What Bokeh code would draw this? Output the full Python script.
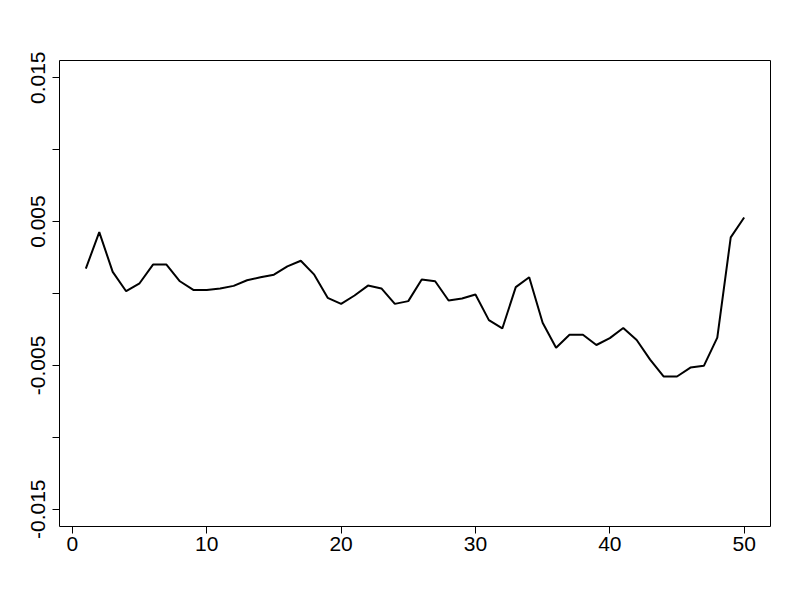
from bokeh.plotting import figure
from bokeh.models import FixedTicker, Range1d
from bokeh.embed import file_html
from bokeh.resources import INLINE

x_index = list(range(1, 51))
series = [
    0.00173, 0.00427, 0.00150, 0.00016, 0.00071, 0.00201, 0.00201, 0.00085, 0.00025, 0.00025,
    0.00035, 0.00053, 0.00092, 0.00113, 0.00131, 0.00189, 0.00228, 0.00131, -0.00030, -0.00072,
    -0.00014, 0.00055, 0.00035, -0.00072, -0.00053, 0.00097, 0.00085, -0.00049, -0.00035, -0.00007,
    -0.00185, -0.00243, 0.00044, 0.00113, -0.00203, -0.00377, -0.00287, -0.00287, -0.00358, -0.00310,
    -0.00240, -0.00323, -0.00460, -0.00577, -0.00577, -0.00515, -0.00503, -0.00307, 0.00390, 0.00528,
]
x_ticks = [0, 10, 20, 30, 40, 50]
y_ticks = [-0.015, -0.01, -0.005, 0.0, 0.005, 0.01, 0.015]
y_labels = {-0.015: "-0.015", -0.01: "", -0.005: "-0.005", 0.0: "", 0.005: "0.005", 0.01: "", 0.015: "0.015"}

W, H = 800, 600
p = figure(width=W, height=H, output_backend="svg", toolbar_location=None,
           x_range=Range1d(-0.96, 51.96), y_range=Range1d(-0.0162, 0.0162),
           min_border_left=59, min_border_right=30, min_border_top=60, min_border_bottom=74)
p.background_fill_color = "white"
p.border_fill_color = "white"
p.grid.visible = False
p.outline_line_color = "black"
p.outline_line_width = 1

p.line(x_index, series, line_color="black", line_width=2)

font = "Liberation Sans"
p.xaxis.ticker = FixedTicker(ticks=x_ticks)
p.yaxis.ticker = FixedTicker(ticks=y_ticks)
p.yaxis.major_label_overrides = {k: v for k, v in y_labels.items()}
for ax in (p.xaxis, p.yaxis):
    ax.axis_line_color = None
    ax.minor_tick_line_color = None
    ax.major_tick_out = 7
    ax.major_tick_in = 0
    ax.major_tick_line_color = "black"
    ax.major_tick_line_width = 1
    ax.major_label_text_font = font
    ax.major_label_text_font_size = "21px"
    ax.major_label_text_color = "black"
p.xaxis.major_label_standoff = 3
p.yaxis.major_label_standoff = 7
p.yaxis.major_label_orientation = "vertical"

open("out.html", "w").write(file_html(p, INLINE))
